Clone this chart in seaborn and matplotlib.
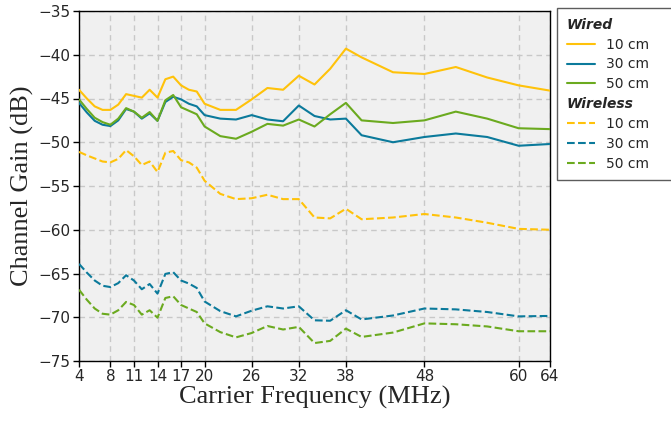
import matplotlib
matplotlib.use("Agg")
import matplotlib.pyplot as plt
from matplotlib.lines import Line2D
import seaborn as sns
import pandas as pd

freq = [4, 5, 6, 7, 8, 9, 10, 11, 12, 13, 14, 15, 16, 17, 18, 19, 20,
        22, 24, 26, 28, 30, 32, 34, 36, 38, 40, 44, 48, 52, 56, 60, 64]

wired_10 = [-44.0, -45.0, -45.9, -46.3, -46.3, -45.7, -44.5, -44.7, -44.9, -44.0, -44.9, -42.8, -42.5,
            -43.5, -44.0, -44.2, -45.6, -46.3, -46.3, -45.1, -43.8, -44.0, -42.4, -43.4, -41.6,
            -39.3, -40.3, -42.0, -42.2, -41.4, -42.6, -43.5, -44.1]
wired_30 = [-45.5, -46.6, -47.55, -48.0, -48.15, -47.5, -46.2, -46.5, -47.3, -46.7, -47.55, -45.4, -44.8,
            -45.1, -45.6, -45.9, -46.9, -47.3, -47.4, -46.9, -47.4, -47.6, -45.8, -47.0, -47.4,
            -47.3, -49.2, -50.0, -49.4, -49.0, -49.4, -50.4, -50.2]
wired_50 = [-45.1, -46.2, -47.2, -47.7, -48.0, -47.3, -46.1, -46.5, -47.2, -46.55, -47.55, -45.2, -44.6,
            -46.0, -46.4, -46.8, -48.2, -49.3, -49.6, -48.8, -47.9, -48.1, -47.4, -48.2, -46.8,
            -45.5, -47.5, -47.8, -47.5, -46.5, -47.3, -48.4, -48.5]
wireless_10 = [-51.1, -51.5, -51.85, -52.2, -52.3, -51.9, -50.9, -51.6, -52.6, -52.2, -53.4, -51.2, -51.0,
               -52.05, -52.3, -52.9, -54.4, -55.9, -56.5, -56.4, -56.0, -56.5, -56.5, -58.6, -58.7,
               -57.6, -58.8, -58.6, -58.2, -58.6, -59.2, -59.9, -60.0]
wireless_30 = [-63.9, -64.9, -65.8, -66.4, -66.55, -66.1, -65.2, -65.8, -66.8, -66.2, -67.3, -65.05, -64.85,
               -65.8, -66.15, -66.65, -68.2, -69.3, -69.9, -69.25, -68.75, -69.0, -68.75, -70.35, -70.4,
               -69.2, -70.25, -69.8, -69.0, -69.1, -69.4, -69.9, -69.85]
wireless_50 = [-66.85, -68.0, -69.0, -69.6, -69.7, -69.2, -68.25, -68.6, -69.7, -69.2, -70.05, -67.8, -67.6,
               -68.6, -69.0, -69.4, -70.7, -71.7, -72.3, -71.8, -71.0, -71.4, -71.1, -72.95, -72.7,
               -71.3, -72.25, -71.75, -70.7, -70.8, -71.05, -71.6, -71.6]

distances = ["10 cm", "30 cm", "50 cm"]
xticks = [4, 8, 11, 14, 17, 20, 26, 32, 38, 48, 60, 64]
yticks = [-75, -70, -65, -60, -55, -50, -45, -40, -35]

colors = {"10 cm": "#FFC20A", "30 cm": "#0B7A9B", "50 cm": "#6BAA1F"}

rows = []
for link, series in [("Wired", [wired_10, wired_30, wired_50]),
                     ("Wireless", [wireless_10, wireless_30, wireless_50])]:
    for d, vals in zip(distances, series):
        for f, v in zip(freq, vals):
            rows.append({"freq": f, "gain": v, "dist": d, "link": link})
df = pd.DataFrame(rows)

sns.set_style("ticks")
fig = plt.figure(figsize=(6.71, 4.22), dpi=100)
ax = fig.add_axes([79 / 671, 1 - 361 / 422, (550 - 79) / 671, (361 - 11) / 422])
ax.set_facecolor("#f0f0f0")

sns.lineplot(data=df, x="freq", y="gain", hue="dist", style="link",
             palette=colors, dashes={"Wired": "", "Wireless": (3.7, 1.6)},
             linewidth=1.5, legend=False, ax=ax, zorder=3)

ax.set_xlim(4, 64)
ax.set_ylim(-75, -35)
ax.set_xticks(xticks)
ax.set_yticks(yticks)
ax.set_xticklabels([str(t) for t in xticks])
ax.set_yticklabels([f"\u2212{abs(t)}" for t in yticks])
ax.tick_params(axis="both", labelsize=11, direction="out", length=4, width=1, color="black", pad=2)
ax.grid(True, linestyle=(0, (4, 3)), color="#c8c8c8", linewidth=1)
ax.set_axisbelow(True)
for s in ax.spines.values():
    s.set_color("black")
    s.set_linewidth(1)

serif = {"family": "Liberation Serif", "size": 19}
ax.set_xlabel("Carrier Frequency (MHz)", fontdict=serif, labelpad=1)
ax.set_ylabel("Channel Gain (dB)", fontdict=serif, labelpad=3)

handles, labels = [], []
blank = Line2D([], [], linestyle="none")
for link, ls in [("Wired", "-"), ("Wireless", (0, (3.7, 1.6)))]:
    handles.append(blank)
    labels.append(link)
    for d in distances:
        handles.append(Line2D([], [], color=colors[d], linestyle=ls, linewidth=1.5))
        labels.append(d)

leg = fig.legend(handles, labels, loc="upper left", bbox_to_anchor=(557 / 671, 1 - 8 / 422),
                 fontsize=10, frameon=True, fancybox=False, edgecolor="#333333",
                 handlelength=2.0, handletextpad=0.8, borderpad=0.7, labelspacing=0.42,
                 borderaxespad=0)
leg.get_frame().set_linewidth(1)

fig.canvas.draw()
shift = (2.0 + 0.8) * 10 * fig.dpi / 72.0
for h, t in zip(leg.legend_handles, leg.get_texts()):
    if t.get_text() in ("Wired", "Wireless"):
        h.set_visible(False)
        t.set_fontweight("bold")
        t.set_fontstyle("italic")
        t.set_position((-shift, 0))

fig.savefig("out.png", dpi=100)
